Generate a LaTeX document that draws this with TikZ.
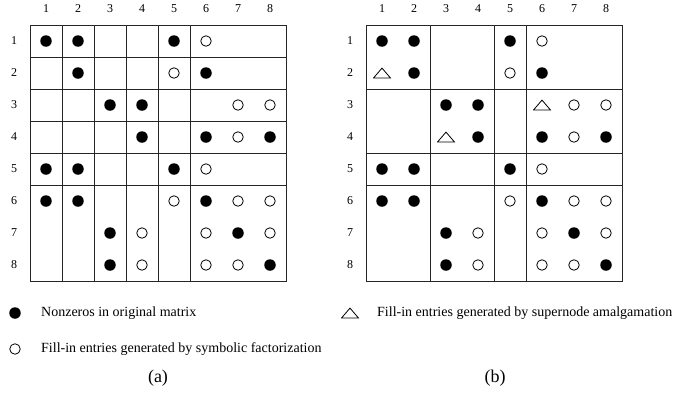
\documentclass[tikz,border=0pt]{standalone}
\usepackage{fontspec}
\setmainfont{Liberation Serif}
\begin{document}
\begin{tikzpicture}[x=1pt,y=-1pt,
  gridline/.style={line width=0.9pt,draw=black!85},
  idx/.style={font=\fontsize{12}{14}\selectfont,inner sep=0pt},
  nz/.style={circle,fill=black,inner sep=0pt,minimum size=11.5pt},
  fi/.style={circle,draw=black,line width=0.8pt,inner sep=0pt,minimum size=10.5pt},
  am/.style={rectangle,inner sep=0pt,minimum width=18pt,minimum height=11pt,
    path picture={\draw[line width=0.8pt]
      ([xshift=0.6pt,yshift=0.6pt]path picture bounding box.south west) --
      ([xshift=-0.6pt,yshift=0.6pt]path picture bounding box.south east) --
      ([yshift=-0.6pt]path picture bounding box.north) -- cycle;}},
  legend/.style={anchor=west,font=\fontsize{14}{16}\selectfont,inner sep=0pt},
  caption/.style={font=\fontsize{18}{20}\selectfont,inner sep=0pt}]
\useasboundingbox (0,0) rectangle (686,394);

% ---------- (a): supernodes {1},{2},{3},{4},{5},{6,7,8} ----------
\def\ax{30}\def\ay{25}
\draw[gridline] (\ax,\ay) rectangle (\ax+256,\ay+256);
\foreach \k in {1,...,5} {
  \draw[gridline] (\ax+32*\k,\ay) -- (\ax+32*\k,\ay+256);
  \draw[gridline] (\ax,\ay+32*\k) -- (\ax+256,\ay+32*\k);
}
\foreach \k in {1,...,8} {
  \node[idx] (a-col-\k) at (\ax+32*\k-16,9) {\k};
  \node[idx] (a-row-\k) at (14,\ay+32*\k-16) {\k};
}

% ---------- (b): supernodes {1,2},{3,4},{5},{6,7,8} ----------
\def\bx{366}\def\by{25}
\draw[gridline] (\bx,\by) rectangle (\bx+256,\by+256);
\foreach \k in {2,4,5} {
  \draw[gridline] (\bx+32*\k,\by) -- (\bx+32*\k,\by+256);
  \draw[gridline] (\bx,\by+32*\k) -- (\bx+256,\by+32*\k);
}
\foreach \k in {1,...,8} {
  \node[idx] (b-col-\k) at (\bx+32*\k-16,9) {\k};
  \node[idx] (b-row-\k) at (350,\by+32*\k-16) {\k};
}

% nonzeros of the original matrix (row/column)
\foreach \r/\c in {1/1,1/2,1/5,2/2,2/6,3/3,3/4,4/4,4/6,4/8,5/1,5/2,5/5,
                   6/1,6/2,6/6,7/3,7/7,8/3,8/8} {
  \node[nz] (a-\r-\c) at (\ax+32*\c-16,\ay+32*\r-16) {};
  \node[nz] (b-\r-\c) at (\bx+32*\c-16,\by+32*\r-16) {};
}
% fill-in from symbolic factorization
\foreach \r/\c in {1/6,2/5,3/7,3/8,4/7,5/6,6/5,6/7,6/8,7/4,7/6,7/8,8/4,8/6,8/7} {
  \node[fi] (a-\r-\c) at (\ax+32*\c-16,\ay+32*\r-16) {};
  \node[fi] (b-\r-\c) at (\bx+32*\c-16,\by+32*\r-16) {};
}
% fill-in from supernode amalgamation
\foreach \r/\c in {2/1,4/3,3/6} {
  \node[am] (b-\r-\c) at (\bx+32*\c-16,\by+32*\r-16) {};
}

% ---------- legend ----------
\node[nz] (key-nz) at (15,313) {};
\node[legend] (key-nz-text) at (41,313) {Nonzeros in original matrix};
\node[fi] (key-fi) at (15,349) {};
\node[legend] (key-fi-text) at (41,349) {Fill-in entries generated by symbolic factorization};
\node[am] (key-am) at (350,313) {};
\node[legend] (key-am-text) at (377,313) {Fill-in entries generated by supernode amalgamation};

% ---------- captions ----------
\node[caption] (cap-a) at (158,378) {(a)};
\node[caption] (cap-b) at (495,378) {(b)};
\end{tikzpicture}
\end{document}
